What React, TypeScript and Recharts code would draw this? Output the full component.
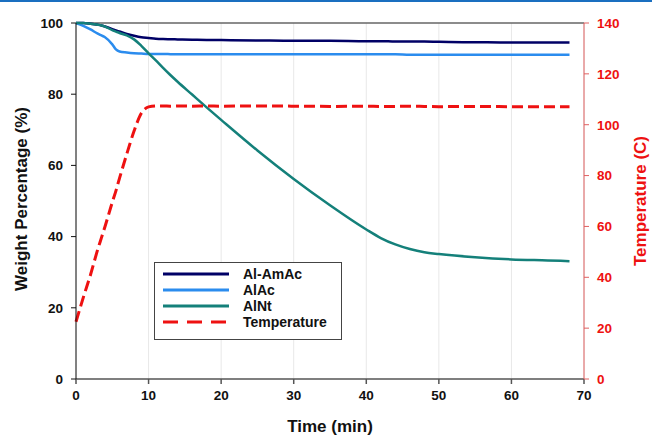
import { LineChart, Line, XAxis, YAxis, CartesianGrid, ReferenceLine } from 'recharts'

const times = [0, 1, 2, 3, 3.5, 4, 5, 5.5, 6, 7, 8, 9, 10, 11, 12, 13, 14, 16, 18, 20, 25, 30, 35, 40, 42, 44, 46, 48, 50, 55, 60, 65, 68]
const alAmAc = [100, 100, 99.8, 99.5, 99.3, 99.0, 98.3, 97.9, 97.6, 96.9, 96.4, 96.0, 95.8, 95.6, 95.5, 95.45, 95.4, 95.3, 95.25, 95.2, 95.1, 95.0, 95.0, 94.9, 94.9, 94.8, 94.8, 94.8, 94.7, 94.6, 94.5, 94.5, 94.5]
const alAc = [100, 99.2, 98.2, 97.0, 96.5, 96.0, 94.0, 92.6, 92.0, 91.7, 91.5, 91.4, 91.3, 91.3, 91.3, 91.25, 91.2, 91.2, 91.2, 91.2, 91.2, 91.2, 91.2, 91.2, 91.2, 91.2, 91.1, 91.1, 91.1, 91.1, 91.1, 91.1, 91.1]
const alNt = [100, 100, 99.8, 99.5, 99.3, 99.0, 98.0, 97.6, 97.2, 96.5, 95.4, 93.6, 91.5, 89.5, 87.4, 85.4, 83.5, 79.9, 76.3, 72.8, 64.2, 56.2, 48.8, 42.0, 39.6, 37.8, 36.5, 35.6, 35.1, 34.2, 33.6, 33.3, 33.1]
const temperature = [22.5, 32, 41, 51, 55.5, 60, 69.5, 74, 79, 88.5, 97.5, 104.5, 107, 107.4, 107.4, 107.3, 107.4, 107.3, 107.4, 107.3, 107.4, 107.3, 107.2, 107.3, 107.2, 107.2, 107.3, 107.2, 107.1, 107.2, 107.1, 107.1, 107.1]

const xTicks = [0, 10, 20, 30, 40, 50, 60, 70]
const leftTicks = [0, 20, 40, 60, 80, 100]
const rightTicks = [0, 20, 40, 60, 80, 100, 120, 140]

const data = times.map((t, i) => ({
  time: t,
  alAmAc: alAmAc[i],
  alAc: alAc[i],
  alNt: alNt[i],
  temperature: temperature[i],
}))

const series = [
  { key: 'alAmAc', name: 'Al-AmAc', color: '#000066', dash: undefined },
  { key: 'alAc', name: 'AlAc', color: '#2b8cee', dash: undefined },
  { key: 'alNt', name: 'AlNt', color: '#14807a', dash: undefined },
  { key: 'temperature', name: 'Temperature', color: '#ee1111', dash: '11 5' },
]

const font = '"Liberation Sans", Arial, sans-serif'
const tickFont = { fontSize: 13.5, fontWeight: 'bold', fontFamily: font }

function LegendBox() {
  return (
    <div
      style={{
        position: 'absolute',
        left: 154,
        top: 262,
        border: '1.5px solid #444',
        background: '#fff',
        width: 188,
        height: 78,
        boxSizing: 'border-box',
        padding: '3px 0 0 8px',
        fontFamily: font,
        fontWeight: 'bold',
        fontSize: 14,
      }}
    >
      {series.map((s) => (
        <div key={s.key} style={{ display: 'flex', alignItems: 'center', height: 16 }}>
          <svg width={66} height={6} style={{ marginRight: 14 }}>
            <line x1={0} y1={3} x2={66} y2={3} stroke={s.color} strokeWidth={3} strokeDasharray={s.dash ? '15 9' : undefined} />
          </svg>
          <span style={{ color: '#111' }}>{s.name}</span>
        </div>
      ))}
    </div>
  )
}

function Titles() {
  const common = { fontFamily: font, fontWeight: 'bold', fontSize: 17, textAnchor: 'middle' as const }
  return (
    <svg width={652} height={438} style={{ position: 'absolute', left: 0, top: 0, pointerEvents: 'none' }}>
      <text x={330} y={432} fill="#111" {...common}>Time (min)</text>
      <text x={27} y={199} fill="#111" transform="rotate(-90 27 199)" {...common}>Weight Percentage (%)</text>
      <text x={646} y={201} fill="#ee1111" transform="rotate(-90 646 201)" {...common}>Temperature (C)</text>
    </svg>
  )
}

export default function App() {
  return (
    <div style={{ position: 'absolute', left: 0, top: 0, width: 652, height: 438, background: '#fff' }}>
      <div style={{ position: 'absolute', left: 0, top: 0, width: 652, height: 2, background: '#1a6fc0' }} />
      <LineChart width={652} height={438} data={data} margin={{ top: 23, right: 0, bottom: 0, left: 0 }}>
        <CartesianGrid stroke="#e8e8e8" horizontalValues={leftTicks} verticalValues={xTicks} />
        <XAxis
          dataKey="time"
          type="number"
          domain={[0, 70]}
          ticks={xTicks}
          height={59}
          stroke="#555"
          strokeWidth={1.5}
          tickSize={5}
          tickMargin={6}
          tick={{ fill: '#111', ...tickFont }}
        />
        <YAxis
          yAxisId="left"
          domain={[0, 100]}
          ticks={leftTicks}
          width={76}
          stroke="#111"
          tickSize={5}
          tickMargin={8}
          tick={{ fill: '#111', ...tickFont }}
        />
        <YAxis
          yAxisId="right"
          orientation="right"
          domain={[0, 140]}
          ticks={rightTicks}
          width={68}
          stroke="#e06060"
          tickSize={5}
          tickMargin={8}
          tick={{ fill: '#ee1111', ...tickFont }}
        />
        <ReferenceLine yAxisId="left" y={100} stroke="#666" strokeWidth={1.5} />
        {series.map((s) => (
          <Line
            key={s.key}
            yAxisId={s.key === 'temperature' ? 'right' : 'left'}
            dataKey={s.key}
            name={s.name}
            type="monotone"
            stroke={s.color}
            strokeWidth={s.dash ? 3 : 2.5}
            strokeDasharray={s.dash}
            dot={false}
            isAnimationActive={false}
          />
        ))}
      </LineChart>
      <LegendBox />
      <Titles />
    </div>
  )
}
